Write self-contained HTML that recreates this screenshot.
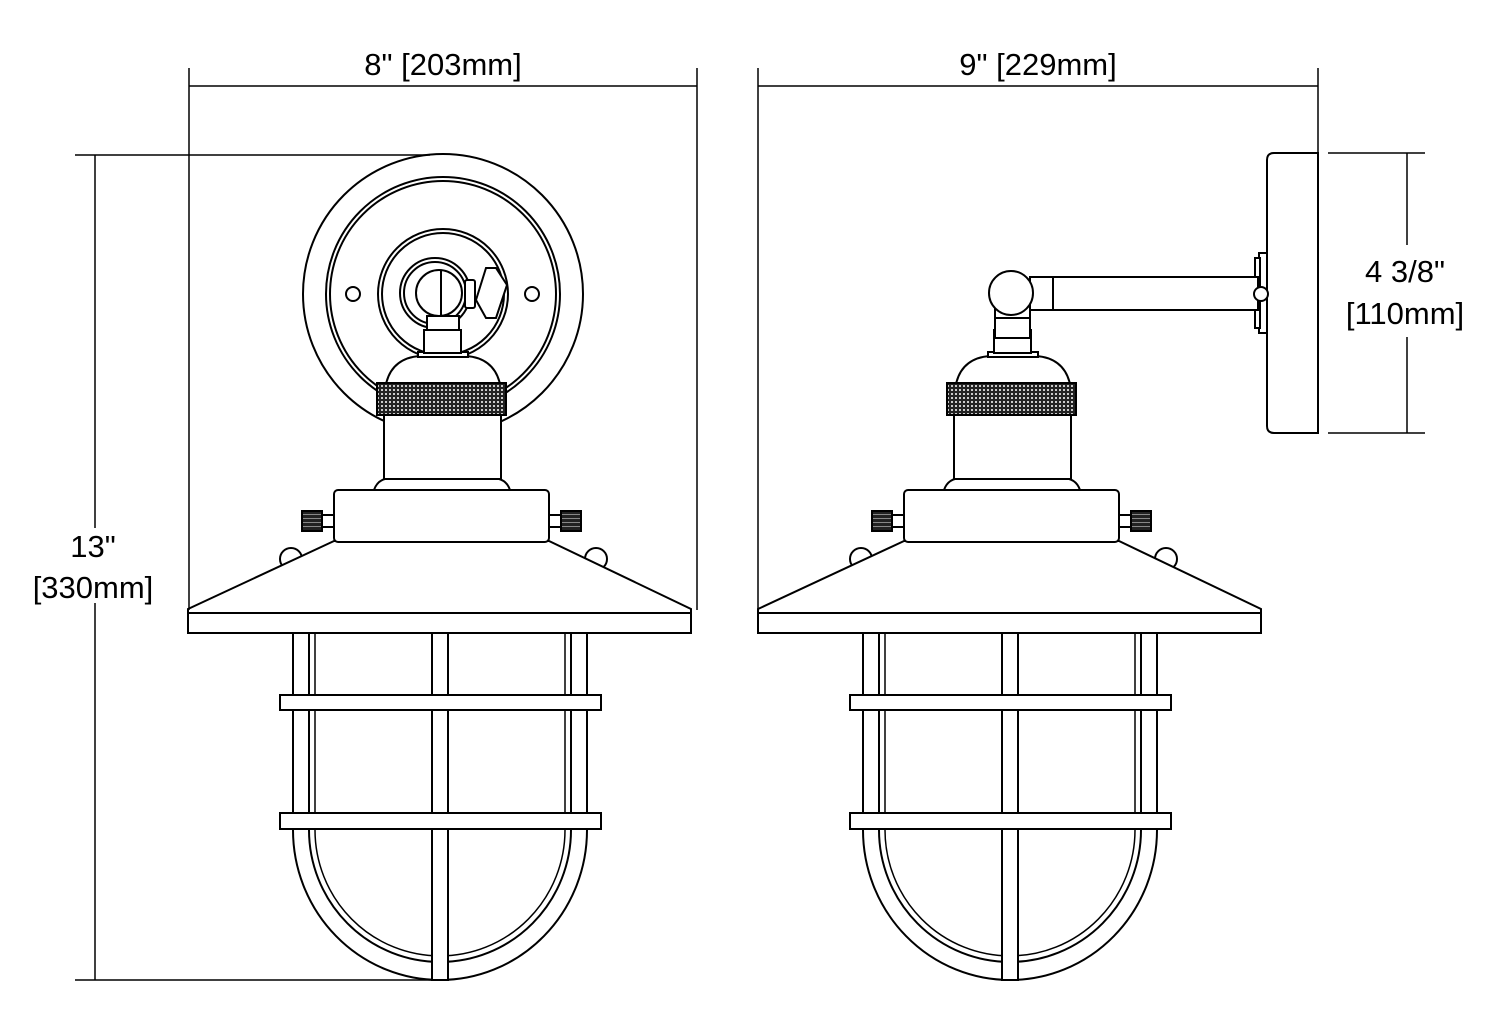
<!DOCTYPE html>
<html><head><meta charset="utf-8"><style>
html,body{margin:0;padding:0;background:#fff;}
svg{display:block;}
text{font-family:"Liberation Sans",sans-serif;font-size:31px;fill:#000;}
</style></head><body>
<svg width="1500" height="1032" viewBox="0 0 1500 1032" xmlns="http://www.w3.org/2000/svg">
<defs>
<pattern id="knurl" width="4" height="4" patternUnits="userSpaceOnUse">
<rect width="4" height="4" fill="#222"/><circle cx="2" cy="2" r="1" fill="#fff"/>
</pattern>
<pattern id="screw" width="3" height="4" patternUnits="userSpaceOnUse">
<rect width="3" height="4" fill="#222"/><rect y="2" width="3" height="1" fill="#888"/>
</pattern>
<g id="lamp" fill="#fff" stroke="#000" stroke-width="2">
<path d="M293,633 V830 A147,150 0 0 0 587,830 V633" fill="none"/>
<path d="M309,633 V830 A131,132 0 0 0 571,830 V633" fill="none"/>
<path d="M315,633 V830 A125,126 0 0 0 565,830 V633" fill="none" stroke-width="1.5"/>
<rect x="432" y="633" width="16" height="347"/>
<rect x="280" y="695" width="321" height="15"/>
<rect x="280" y="813" width="321" height="16"/>
<circle cx="291" cy="559" r="11"/>
<circle cx="596" cy="559" r="11"/>
<path d="M334,541 L188,609 V633 H691 V609 L549,541 Z"/>
<line x1="188" y1="613" x2="691" y2="613"/>
<rect x="322" y="515" width="13" height="12"/>
<rect x="302" y="511" width="20" height="20" fill="url(#screw)"/>
<rect x="548" y="515" width="13" height="12"/>
<rect x="561" y="511" width="20" height="20" fill="url(#screw)"/>
<rect x="334" y="490" width="215" height="52" rx="4"/>
<path d="M374,490 Q378,478 392,478 H492 Q506,478 510,490 Z"/>
<rect x="384" y="414" width="117" height="65"/>
<path d="M386,384 Q392,358 420,356 H466 Q494,358 500,384 Z"/>
<rect x="377" y="383" width="129" height="32" fill="url(#knurl)"/>
<rect x="418" y="352" width="50" height="5"/>
<rect x="424" y="330" width="37" height="23"/>
</g>
</defs>

<g fill="#fff" stroke="#000" stroke-width="2">
<circle cx="443" cy="294" r="140"/>
<circle cx="443" cy="294" r="117"/>
<circle cx="443" cy="294" r="113"/>
<circle cx="353" cy="294" r="7"/>
<circle cx="532" cy="294" r="7"/>
<circle cx="443" cy="294" r="65"/>
<circle cx="443" cy="294" r="61"/>
<circle cx="435" cy="293" r="35"/>
<circle cx="435" cy="293" r="31"/>
<path d="M486,268 L496,268 L507,285 L496,318 L486,318 L476,300 Z"/>
<rect x="465" y="280" width="10" height="28" rx="2"/>
<circle cx="439" cy="293" r="23"/>
<line x1="441" y1="270" x2="441" y2="316"/>
<rect x="427" y="316" width="32" height="16"/>
</g>
<use href="#lamp"/>

<g fill="#fff" stroke="#000" stroke-width="2">
<path d="M1274,153 H1318 V433 H1274 Q1267,433 1267,426 V160 Q1267,153 1274,153 Z"/>
<rect x="1259" y="253" width="8" height="80"/>
<rect x="1255" y="258" width="5" height="70"/>
<rect x="1030" y="277" width="228" height="33"/>
<line x1="1053" y1="277" x2="1053" y2="310"/>
<circle cx="1261" cy="294" r="7"/>
<rect x="995" y="305" width="35" height="33"/>
<circle cx="1011" cy="293" r="22"/>
</g>
<use href="#lamp" transform="translate(570,0)"/>
<g fill="#fff" stroke="#000" stroke-width="2"><rect x="995" y="318" width="35" height="20"/></g>

<g stroke="#000" stroke-width="1.5" fill="none">
<line x1="189" y1="68" x2="189" y2="610"/>
<line x1="697" y1="68" x2="697" y2="610"/>
<line x1="189" y1="86" x2="697" y2="86"/>
<line x1="758" y1="68" x2="758" y2="610"/>
<line x1="1318" y1="68" x2="1318" y2="153"/>
<line x1="758" y1="86" x2="1318" y2="86"/>
<line x1="75" y1="155" x2="430" y2="155"/>
<line x1="75" y1="980" x2="440" y2="980"/>
<line x1="95" y1="155" x2="95" y2="528"/>
<line x1="95" y1="603" x2="95" y2="980"/>
<line x1="1328" y1="153" x2="1425" y2="153"/>
<line x1="1328" y1="433" x2="1425" y2="433"/>
<line x1="1407" y1="153" x2="1407" y2="245"/>
<line x1="1407" y1="337" x2="1407" y2="433"/>
</g>
<text x="443" y="75" text-anchor="middle">8" [203mm]</text>
<text x="1038" y="75" text-anchor="middle">9" [229mm]</text>
<text x="93" y="557" text-anchor="middle">13"</text>
<text x="93" y="598" text-anchor="middle">[330mm]</text>
<text x="1405" y="282" text-anchor="middle">4 3/8"</text>
<text x="1405" y="324" text-anchor="middle">[110mm]</text>
</svg>
</body></html>
